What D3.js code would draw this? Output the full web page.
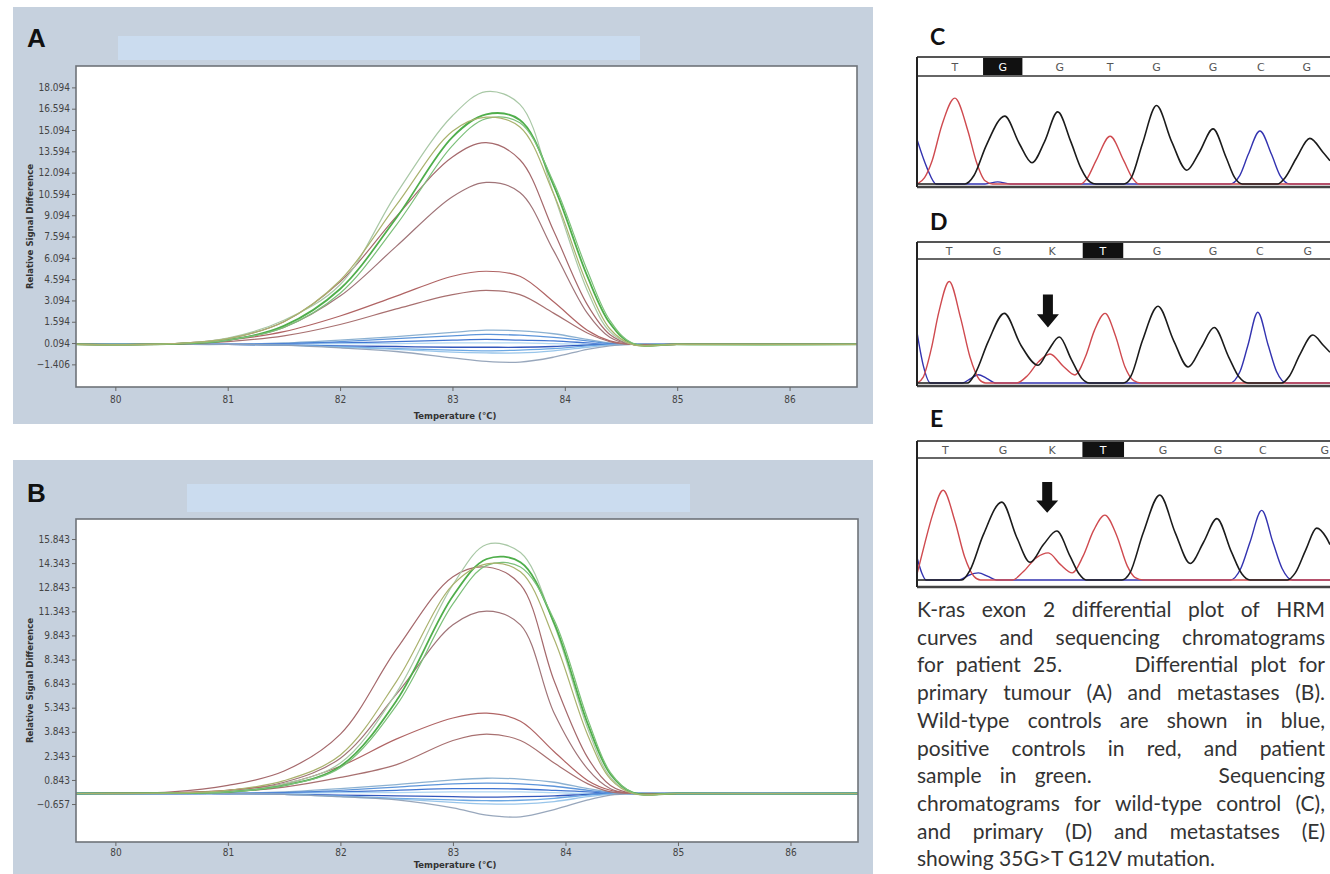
<!DOCTYPE html>
<html>
<head>
<meta charset="utf-8">
<script src="https://cdn.jsdelivr.net/npm/d3@7"></script>
<style>
body { margin: 0; background: #fff; }
svg { display: block; }
</style>
</head>
<body>
<div id="figure"></div>
<script>
// ---- HRM difference curves ----
var temps = [79.65, 80.5, 81, 81.5, 82, 82.5, 83, 83.3, 83.6, 83.9, 84.2, 84.4, 84.6, 85, 86.6];
var xTicks = [80, 81, 82, 83, 84, 85, 86];
var yTicksA = [18.094, 16.594, 15.094, 13.594, 12.094, 10.594, 9.094, 7.594, 6.094, 4.594, 3.094, 1.594, 0.094, -1.406];
var yTicksB = [15.843, 14.343, 12.843, 11.343, 9.843, 8.343, 6.843, 5.343, 3.843, 2.343, 0.843, -0.657];

var patientA = [
    [0, 0.05, 0.45, 1.7, 4.2, 10.6, 16.1, 17.8, 16.9, 10.6, 3.8, 0.9, 0, 0, 0],
    [0, 0.03, 0.3, 1.3, 3.9, 8.9, 14.6, 16.2, 15.8, 11.2, 4.8, 1.5, 0.05, 0, 0],
    [0, 0.03, 0.3, 1.2, 3.6, 8.4, 14.0, 15.9, 15.6, 11.4, 5.2, 1.7, 0.1, 0, 0],
    [0, 0.05, 0.4, 1.6, 4.5, 9.8, 15.0, 16.0, 15.3, 10.6, 4.2, 1.1, 0, 0, 0]
];
var positiveA = [
    [0, 0.05, 0.4, 1.6, 4.4, 9.0, 13.2, 14.2, 13.0, 8.0, 2.8, 0.7, 0, 0, 0],
    [0, 0.04, 0.3, 1.2, 3.4, 6.9, 10.4, 11.4, 10.7, 6.6, 2.2, 0.5, 0, 0, 0],
    [0, 0.03, 0.3, 0.9, 2.0, 3.4, 4.8, 5.15, 4.8, 3.0, 1.0, 0.25, 0, 0, 0],
    [0, 0.02, 0.2, 0.6, 1.4, 2.5, 3.5, 3.8, 3.5, 2.2, 0.8, 0.2, 0, 0, 0]
];
var wildTypeA = [
    [0, 0, 0, 0.1, 0.3, 0.55, 0.85, 1.0, 0.95, 0.75, 0.35, 0.1, 0, 0, 0],
    [0, 0, 0, 0.05, 0.2, 0.4, 0.6, 0.7, 0.65, 0.5, 0.25, 0.05, 0, 0, 0],
    [0, 0, 0, 0.05, 0.1, 0.2, 0.3, 0.35, 0.3, 0.25, 0.1, 0, 0, 0, 0],
    [0, 0, 0, 0, 0.05, 0.05, 0.1, 0.1, 0.1, 0.05, 0, 0, 0, 0, 0],
    [0, 0, 0, -0.05, -0.1, -0.15, -0.2, -0.2, -0.2, -0.15, -0.05, 0, 0, 0, 0],
    [0, 0, 0, -0.05, -0.15, -0.3, -0.4, -0.45, -0.4, -0.3, -0.1, 0, 0, 0, 0],
    [0, 0, 0, -0.05, -0.2, -0.35, -0.55, -0.6, -0.6, -0.45, -0.2, -0.05, 0, 0, 0],
    [0, 0, 0, -0.05, -0.25, -0.5, -0.95, -1.2, -1.25, -0.9, -0.35, -0.1, 0, 0, 0]
];

var patientB = [
    [0, 0.02, 0.1, 0.6, 1.9, 6.3, 13.0, 15.5, 15.0, 10.5, 4.0, 1.0, 0, 0, 0],
    [0, 0.02, 0.1, 0.5, 1.7, 5.8, 12.3, 14.6, 14.4, 10.6, 4.3, 1.2, 0.05, 0, 0],
    [0, 0.02, 0.1, 0.5, 1.6, 5.5, 11.8, 14.2, 14.1, 10.8, 4.6, 1.3, 0.05, 0, 0],
    [0, 0.03, 0.2, 0.8, 2.4, 7.0, 13.0, 14.3, 13.8, 9.6, 3.6, 0.9, 0, 0, 0]
];
var positiveB = [
    [0, 0.1, 0.5, 1.4, 3.7, 9.0, 13.5, 14.1, 13.0, 7.0, 2.2, 0.5, 0, 0, 0],
    [0, 0.05, 0.2, 0.7, 2.2, 6.2, 10.5, 11.35, 10.5, 5.0, 1.5, 0.3, 0, 0, 0],
    [0, 0.05, 0.2, 0.6, 1.7, 3.4, 4.7, 5.0, 4.5, 2.6, 0.8, 0.2, 0, 0, 0],
    [0, 0.03, 0.1, 0.4, 1.0, 1.8, 3.3, 3.7, 3.3, 1.9, 0.6, 0.1, 0, 0, 0]
];
var wildTypeB = [
    [0, 0, 0, 0.1, 0.3, 0.55, 0.85, 0.95, 0.9, 0.7, 0.3, 0.1, 0, 0, 0],
    [0, 0, 0, 0.05, 0.2, 0.4, 0.6, 0.65, 0.6, 0.45, 0.2, 0.05, 0, 0, 0],
    [0, 0, 0, 0.05, 0.1, 0.2, 0.3, 0.3, 0.28, 0.2, 0.1, 0, 0, 0, 0],
    [0, 0, 0, 0, 0.05, 0.05, 0.1, 0.1, 0.1, 0.05, 0, 0, 0, 0, 0],
    [0, 0, 0, -0.05, -0.1, -0.15, -0.2, -0.22, -0.2, -0.15, -0.05, 0, 0, 0, 0],
    [0, 0, 0, -0.05, -0.15, -0.3, -0.4, -0.45, -0.42, -0.3, -0.1, 0, 0, 0, 0],
    [0, 0, 0, -0.05, -0.2, -0.35, -0.55, -0.65, -0.65, -0.5, -0.2, -0.05, 0, 0, 0],
    [0, 0, 0, -0.05, -0.2, -0.4, -0.9, -1.35, -1.45, -1.0, -0.4, -0.1, 0, 0, 0]
];

// ---- sequencing chromatograms: [base position, intensity] ----
var basesC = ["T", "G", "G", "T", "G", "G", "C", "G"];
var basePosC = [0, 0.95, 2.08, 3.08, 4.0, 5.12, 6.07, 6.98];
var traceC = {
    C: [[-0.75, 42], [-0.55, 15], [-0.37, 0], [0.6, 0], [0.85, 2], [1.1, 0], [5.45, 0], [5.65, 8], [5.82, 28], [6.05, 50], [6.28, 28], [6.45, 8], [6.65, 0], [7.44, 0]],
    T: [[-0.75, 0], [-0.6, 6], [-0.45, 22], [-0.26, 55], [0, 81], [0.26, 50], [0.42, 22], [0.6, 3], [0.75, 0], [2.5, 0], [2.62, 5], [2.8, 22], [3.08, 45], [3.35, 22], [3.53, 5], [3.65, 0], [7.44, 0]],
    G: [[-0.75, 0], [0.2, 0], [0.38, 8], [0.62, 36], [0.99, 64], [1.28, 38], [1.53, 20], [1.78, 40], [2.04, 68], [2.3, 40], [2.5, 15], [2.68, 2], [2.8, 0], [3.35, 0], [3.5, 6], [3.72, 38], [4.0, 74], [4.3, 40], [4.6, 13], [4.85, 30], [5.12, 52], [5.38, 25], [5.55, 6], [5.7, 0], [6.4, 0], [6.55, 6], [6.78, 25], [7.04, 43], [7.3, 30], [7.44, 22]]
};
var basesD = ["T", "G", "K", "T", "G", "G", "C", "G"];
var basePosD = [0, 0.92, 1.98, 2.96, 4.0, 5.08, 5.98, 6.9];
var traceD = {
    C: [[-0.62, 43], [-0.5, 15], [-0.36, 0], [0.25, 0], [0.42, 4], [0.56, 7], [0.72, 4], [0.9, 0], [5.4, 0], [5.6, 10], [5.75, 32], [5.94, 60], [6.14, 32], [6.3, 10], [6.5, 0], [7.33, 0]],
    T: [[-0.62, 0], [-0.5, 5], [-0.35, 28], [-0.2, 60], [0, 86], [0.22, 55], [0.4, 22], [0.58, 3], [0.7, 0], [1.3, 0], [1.5, 6], [1.72, 18], [1.94, 24.6], [2.2, 14], [2.42, 6.8], [2.62, 22], [2.8, 45], [3.0, 59], [3.2, 40], [3.38, 14], [3.55, 2], [3.7, 0], [7.33, 0]],
    G: [[-0.62, 0], [0.35, 0], [0.5, 8], [0.75, 35], [1.06, 59], [1.38, 32], [1.71, 15], [1.9, 27], [2.12, 39], [2.35, 20], [2.55, 4], [2.7, 0], [3.35, 0], [3.5, 6], [3.72, 36], [4.02, 65], [4.32, 36], [4.6, 13.6], [4.85, 30], [5.1, 47], [5.38, 22], [5.58, 5], [5.75, 0], [6.4, 0], [6.55, 6], [6.75, 24], [7.0, 40.7], [7.2, 32], [7.33, 26]]
};
var basesE = ["T", "G", "K", "T", "G", "G", "C", "G"];
var basePosE = [0.04, 1.12, 2.04, 3.0, 4.12, 5.15, 5.99, 7.15];
var traceE = {
    C: [[-0.49, 19], [-0.4, 6], [-0.32, 0], [0.3, 0], [0.48, 4], [0.66, 6], [0.84, 3], [1.0, 0], [5.38, 0], [5.58, 10], [5.75, 32], [5.97, 59], [6.18, 32], [6.35, 10], [6.55, 0], [7.25, 0]],
    T: [[-0.49, 5], [-0.35, 30], [-0.2, 55], [0, 76], [0.22, 50], [0.4, 20], [0.58, 3], [0.7, 0], [1.3, 0], [1.5, 7], [1.75, 19], [1.97, 23], [2.2, 13], [2.42, 6], [2.62, 20], [2.82, 42], [3.03, 55], [3.25, 38], [3.45, 12], [3.6, 2], [3.75, 0], [7.25, 0]],
    G: [[-0.49, 0], [0.35, 0], [0.5, 8], [0.75, 38], [1.1, 66], [1.38, 36], [1.63, 15], [1.88, 30], [2.13, 41.5], [2.38, 20], [2.55, 5], [2.68, 0], [3.35, 0], [3.5, 6], [3.75, 40], [4.06, 72], [4.35, 40], [4.63, 14], [4.88, 32], [5.13, 52], [5.4, 24], [5.6, 5], [5.75, 0], [6.45, 0], [6.6, 6], [6.8, 26], [7.0, 44], [7.18, 36], [7.25, 30]]
};
// mutation arrows: [position, top intensity, tip intensity]
var arrowD = [1.9, 75, 47];
var arrowE = [1.95, 83, 57];

var captionLines = [
    "K-ras exon 2 differential plot of HRM",
    "curves and sequencing chromatograms",
    "for patient 25.      Differential plot for",
    "primary tumour (A) and metastases (B).",
    "Wild-type controls are shown in blue,",
    "positive controls in red, and patient",
    "sample in green.       Sequencing",
    "chromatograms for wild-type control (C),",
    "and primary (D) and metastatses (E)",
    "showing 35G>T G12V mutation."
];

// ---- drawing ----
var svg = d3.select("#figure").append("svg")
    .attr("width", 1330)
    .attr("height", 874);

var greens = ["#a9c8a6", "#4fae4b", "#7cc07a", "#aab26e"];
var reds = ["#a5696c", "#a07478", "#b06464", "#a87070"];
var blues = ["#7fa9cc", "#4b8ad6", "#2c66cc", "#a6d2f2", "#1d45b5", "#5c9fe0", "#8dbfe8", "#8d9db5"];
var axisFont = "'Liberation Sans Narrow', 'DejaVu Sans Condensed', 'Liberation Sans', sans-serif";

function drawHRM(cfg) {
    var g = svg.append("g");
    g.append("rect").attr("x", 13).attr("y", cfg.top).attr("width", 860).attr("height", cfg.height).attr("fill", "#c6d1de");
    g.append("rect").attr("x", cfg.bar[0]).attr("y", cfg.bar[1]).attr("width", cfg.bar[2]).attr("height", cfg.bar[3]).attr("fill", "#cbdcef");
    g.append("text").attr("x", 27).attr("y", cfg.labelY).text(cfg.label)
        .attr("font-family", "'Liberation Sans', Arial, sans-serif").attr("font-weight", "bold")
        .attr("font-size", 26).attr("fill", "#111");

    var p = cfg.plot;
    var x = d3.scaleLinear().domain([79.65, 86.6]).range([p.l, p.r]);
    var y = d3.scaleLinear().domain(cfg.yDomain).range([p.b, p.t]);

    g.append("rect").attr("x", p.l).attr("y", p.t).attr("width", p.r - p.l).attr("height", p.b - p.t).attr("fill", "#fff");
    g.append("clipPath").attr("id", "clip" + cfg.label)
        .append("rect").attr("x", p.l).attr("y", p.t).attr("width", p.r - p.l).attr("height", p.b - p.t);

    var line = d3.line()
        .x((d, i) => x(temps[i]))
        .y(d => y(d))
        .curve(d3.curveCatmullRom.alpha(0.5));

    var curves = g.append("g").attr("clip-path", "url(#clip" + cfg.label + ")").attr("fill", "none");
    cfg.wild.forEach((v, i) => {
        curves.append("path").attr("d", line(v)).attr("stroke", blues[i]).attr("stroke-width", 1.3).attr("opacity", 0.9);
    });
    cfg.positive.forEach((v, i) => {
        curves.append("path").attr("d", line(v)).attr("stroke", reds[i]).attr("stroke-width", 1.2);
    });
    cfg.patient.forEach((v, i) => {
        curves.append("path").attr("d", line(v)).attr("stroke", greens[i]).attr("stroke-width", i == 1 ? 1.8 : 1.2);
    });

    g.append("rect").attr("x", p.l).attr("y", p.t).attr("width", p.r - p.l).attr("height", p.b - p.t)
        .attr("fill", "none").attr("stroke", "#6e7379").attr("stroke-width", 1.6);

    var yAxis = g.append("g").attr("transform", "translate(" + p.l + ",0)")
        .call(d3.axisLeft(y).tickValues(cfg.yTicks).tickFormat(d3.format(".3f")).tickSize(4).tickPadding(2));
    var xAxis = g.append("g").attr("transform", "translate(0," + p.b + ")")
        .call(d3.axisBottom(x).tickValues(xTicks).tickFormat(d3.format("d")).tickSize(4).tickPadding(cfg.xPad));
    [yAxis, xAxis].forEach(a => {
        a.select(".domain").remove();
        a.selectAll("line").attr("stroke", "#666");
        a.selectAll("text").attr("font-family", axisFont).attr("font-size", 10).attr("fill", "#444");
    });

    g.append("text").attr("transform", "translate(33," + ((p.t + p.b) / 2) + ") rotate(-90)")
        .attr("text-anchor", "middle").attr("font-family", axisFont).attr("font-weight", "bold")
        .attr("font-size", 9.5).attr("fill", "#333").text("Relative Signal Difference");
    g.append("text").attr("x", 455).attr("y", p.b + cfg.titleDy)
        .attr("text-anchor", "middle").attr("font-family", axisFont).attr("font-weight", "bold")
        .attr("font-size", 9.5).attr("fill", "#333").text("Temperature (°C)");
}

drawHRM({
    label: "A", top: 7, height: 417, labelY: 47, bar: [118, 36, 522, 24],
    plot: { l: 76, t: 66, r: 857, b: 387 }, yDomain: [-3.0, 19.6], yTicks: yTicksA,
    xPad: 5, titleDy: 32,
    patient: patientA, positive: positiveA, wild: wildTypeA
});
drawHRM({
    label: "B", top: 460, height: 414, labelY: 502, bar: [187, 484, 503, 28],
    plot: { l: 76, t: 519, r: 858, b: 842 }, yDomain: [-3.02, 17.09], yTicks: yTicksB,
    xPad: 3, titleDy: 26,
    patient: patientB, positive: positiveB, wild: wildTypeB
});

var traceColors = { G: "#1b1b1b", T: "#cf4a4f", C: "#3333b0" };

function drawChrom(cfg) {
    var g = svg.append("g");
    var x = d3.scaleLinear().domain(cfg.xDomain).range([917, 1330]);
    var y = d3.scaleLinear().domain([0, 100]).range([cfg.base, cfg.full]);

    g.append("text").attr("x", 930).attr("y", cfg.labelY).text(cfg.label)
        .attr("font-family", "Lato, 'Open Sans', sans-serif").attr("font-weight", "bold")
        .attr("font-size", 23).attr("fill", "#111");

    // highlighted base
    var hp = cfg.basePos[cfg.highlight];
    g.append("rect").attr("x", x(hp - 0.39)).attr("y", cfg.headTop + 1)
        .attr("width", x(hp + 0.39) - x(hp - 0.39)).attr("height", cfg.headBottom - cfg.headTop - 2).attr("fill", "#111");
    g.selectAll(".base").data(cfg.bases).enter().append("text")
        .attr("x", (d, i) => x(cfg.basePos[i]))
        .attr("y", (cfg.headTop + cfg.headBottom) / 2 + 4)
        .attr("text-anchor", "middle")
        .attr("font-family", "'DejaVu Sans', sans-serif").attr("font-size", 11)
        .attr("fill", (d, i) => i == cfg.highlight ? "#fff" : "#555")
        .text(d => d);

    g.append("clipPath").attr("id", "clip" + cfg.label)
        .append("rect").attr("x", 918).attr("y", cfg.headBottom).attr("width", 412).attr("height", cfg.boxBottom - cfg.headBottom);
    var line = d3.line().x(d => x(d[0])).y(d => y(d[1])).curve(d3.curveMonotoneX);
    var traces = g.append("g").attr("clip-path", "url(#clip" + cfg.label + ")").attr("fill", "none");
    ["C", "T", "G"].forEach(k => {
        traces.append("path").attr("d", line(cfg.trace[k])).attr("stroke", traceColors[k])
            .attr("stroke-width", k == "G" ? 1.6 : 1.4);
    });

    // box
    var box = g.append("g").attr("stroke", "#333").attr("fill", "none");
    box.append("line").attr("x1", 917).attr("x2", 1330).attr("y1", cfg.headTop).attr("y2", cfg.headTop).attr("stroke-width", 2).attr("stroke", "#555");
    box.append("line").attr("x1", 917).attr("x2", 1330).attr("y1", cfg.headBottom).attr("y2", cfg.headBottom).attr("stroke-width", 1.5);
    box.append("line").attr("x1", 917).attr("x2", 1330).attr("y1", cfg.boxBottom).attr("y2", cfg.boxBottom).attr("stroke-width", 2.5).attr("stroke", "#444");
    box.append("line").attr("x1", 917).attr("x2", 917).attr("y1", cfg.headTop).attr("y2", cfg.boxBottom).attr("stroke-width", 2).attr("stroke", "#222");

    if (cfg.arrow) {
        var ax = x(cfg.arrow[0]), top = y(cfg.arrow[1]), tip = y(cfg.arrow[2]);
        var neck = tip - (tip - top) * 0.4;
        g.append("path")
            .attr("d", "M" + (ax - 5) + "," + top + "H" + (ax + 5) + "V" + neck + "H" + (ax + 11) +
                "L" + ax + "," + tip + "L" + (ax - 11) + "," + neck + "H" + (ax - 5) + "Z")
            .attr("fill", "#111");
    }
}

drawChrom({ label: "C", labelY: 45, xDomain: [-0.75, 7.44], base: 184, full: 78,
    headTop: 57, headBottom: 76, boxBottom: 187,
    bases: basesC, basePos: basePosC, highlight: 1, trace: traceC });
drawChrom({ label: "D", labelY: 230, xDomain: [-0.62, 7.33], base: 383, full: 265,
    headTop: 242, headBottom: 259, boxBottom: 386,
    bases: basesD, basePos: basePosD, highlight: 3, trace: traceD, arrow: arrowD });
drawChrom({ label: "E", labelY: 427, xDomain: [-0.49, 7.25], base: 580, full: 462,
    headTop: 441, headBottom: 458, boxBottom: 587,
    bases: basesE, basePos: basePosE, highlight: 3, trace: traceE, arrow: arrowE });

// ---- caption, justified ----
var capX = 917, capW = 408;
var cap = svg.append("g").attr("font-family", "Lato, 'Open Sans', sans-serif").attr("fill", "#333");
var probe = cap.append("text").attr("font-size", 20);
function widthOf(s, fs) {
    probe.attr("font-size", fs).text(s);
    return probe.node().getComputedTextLength();
}
var maxNatural = d3.max(captionLines.slice(0, -1), l => widthOf(l.replace(/ +/g, " "), 20));
var fs = Math.min(21, 20 * capW * 0.98 / maxNatural);

captionLines.forEach((line, i) => {
    var yPos = 617 + i * 27.7;
    var tokens = line.split(" ");
    if (i == captionLines.length - 1) {
        cap.append("text").attr("x", capX).attr("y", yPos).attr("font-size", fs).text(line);
        return;
    }
    var widths = tokens.map(t => t ? widthOf(t, fs) : 0);
    var gap = (capW - d3.sum(widths)) / (tokens.length - 1);
    var cx = capX;
    tokens.forEach((t, j) => {
        if (t) cap.append("text").attr("x", cx).attr("y", yPos).attr("font-size", fs).text(t);
        cx += widths[j] + gap;
    });
});
probe.remove();
</script>
</body>
</html>
